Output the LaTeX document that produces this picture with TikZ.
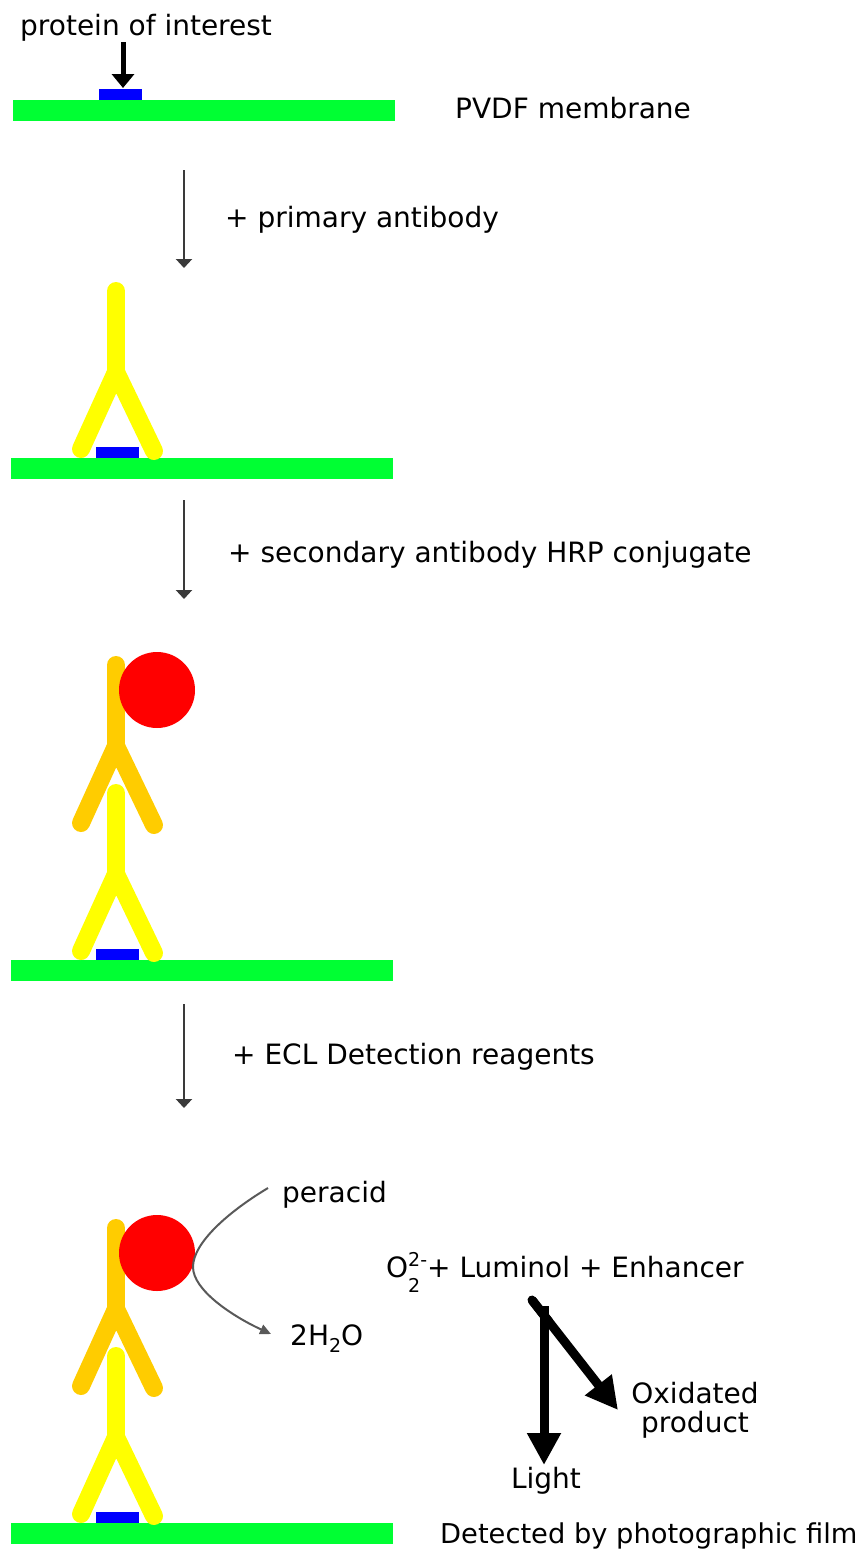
\documentclass[tikz,border=0pt]{standalone}
\usepackage{fontspec}
\setmainfont{DejaVu Sans}
\usetikzlibrary{arrows.meta,calc}
\definecolor{membr}{HTML}{00FF33}
\definecolor{prot}{HTML}{0000FF}
\definecolor{prim}{HTML}{FFFF00}
\definecolor{secd}{HTML}{FFCC00}
\definecolor{hrp}{HTML}{FF0000}
\definecolor{stepgray}{HTML}{3A3A3A}
\newcommand\AbShape[2]{% colour, fork y
  \draw[abline,#1] (116,#2-81) -- (116,#2);
  \draw[abline,#1] (81,#2+77) -- (116,#2) -- (154,#2+79);}
\newcommand\txtsize{\fontsize{28}{33}\selectfont}
\newcommand\smallsize{\fontsize{19}{21}\selectfont}
\begin{document}
\begin{tikzpicture}[x=1pt,y=-1pt,
  abline/.style={line width=18pt,line cap=round,line join=round},
  lbl/.style={anchor=base west,inner sep=0pt,font=\txtsize},
  stepar/.style={stepgray,line width=2.5pt,-{Triangle[length=9pt,width=16pt]}},
  thickar/.style={black,line width=9pt,-{Triangle[length=32pt,width=32pt]}},
  membrane/.style={fill=membr},
  antigen/.style={fill=prot}]
\useasboundingbox (0,0) rectangle (865,1551);
% ---------- panel 1
\fill[membrane] (13,100) rectangle (395,121);
\fill[antigen] (99,89) rectangle (142,100);
\node[lbl] (poi) at (20,35) {protein of interest};
\coordinate (poitop) at (123,42);
\coordinate (poitip) at (123,88);
\draw[black,line width=5pt,-{Triangle[length=14pt,width=22pt]}] (poitop) -- (poitip);
\node[lbl] (pvdf) at (455,118) {PVDF membrane};
% step 1
\coordinate (s1a) at (184,170);
\coordinate (s1b) at (184,268);
\draw[stepar] (s1a) -- (s1b);
\node[lbl] (t1) at (225,227) {+ primary antibody};
% ---------- panel 2
\fill[membrane] (11,458) rectangle (393,479);
\fill[antigen] (96,447) rectangle (139,458);
\AbShape{prim}{372}
% step 2
\coordinate (s2a) at (184,500);
\coordinate (s2b) at (184,599);
\draw[stepar] (s2a) -- (s2b);
\node[lbl] (t2) at (228,562) {+ secondary antibody HRP conjugate};
% ---------- panel 3
\fill[membrane] (11,960) rectangle (393,981);
\fill[antigen] (96,949) rectangle (139,960);
\AbShape{prim}{874}
\AbShape{secd}{746}
\fill[hrp] (157,690) circle (38);
% step 3
\coordinate (s3a) at (184,1004);
\coordinate (s3b) at (184,1108);
\draw[stepar] (s3a) -- (s3b);
\node[lbl] (t3) at (232,1064) {+ ECL Detection reagents};
% ---------- panel 4
\fill[membrane] (11,1523) rectangle (393,1544);
\fill[antigen] (96,1512) rectangle (139,1523);
\AbShape{prim}{1437}
\AbShape{secd}{1309}
\node[circle,fill=hrp,minimum size=76pt,inner sep=0pt] (hrp4) at (157,1253) {};
\node[lbl] (peracid) at (282,1202) {peracid};
\node[lbl] (water) at (290,1345) {2H\raisebox{-7pt}{\smallsize 2}O};
\coordinate (cva) at (268,1188);
\coordinate (cvm) at (193,1267);
\coordinate (cvb) at (271,1334);
\draw[gray!70!black,line width=2pt,-{Triangle[length=11pt,width=10pt]}]
  (cva) .. controls (228,1212) and (193,1243) .. (cvm)
  .. controls (193,1290) and (232,1316) .. (cvb);
\node[lbl] (react) at (386,1277) {O\rlap{\raisebox{-15pt}{\smallsize 2}}\raisebox{11pt}{\smallsize 2-}+ Luminol + Enhancer};
\coordinate (ja) at (544,1306);
\node[lbl,anchor=base] (light) at (546,1488) {Light};
\coordinate (lighttip) at (544,1465);
\draw[thickar] (ja) -- (lighttip);
\coordinate (jb) at (532,1300);
\coordinate (oxtip) at (618,1410);
\draw[black,line width=9pt,line cap=round] (jb) -- ($(jb)!0.2!(oxtip)$);
\draw[thickar] (jb) -- (oxtip);
\node[lbl,anchor=base] (oxid) at (695,1403) {Oxidated};
\node[lbl,anchor=base] (prod) at (695,1432) {product};
\node[lbl,font=\fontsize{27.3}{32}\selectfont] (film) at (440,1543) {Detected by photographic film};
\end{tikzpicture}
\end{document}
